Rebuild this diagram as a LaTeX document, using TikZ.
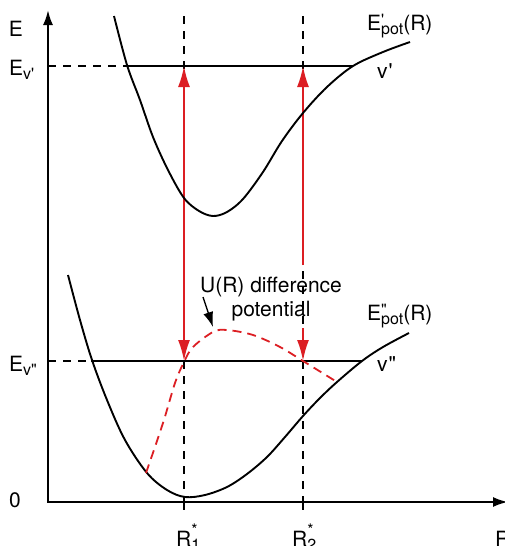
\documentclass[tikz,border=0pt]{standalone}
\usepackage{fontspec}
\setmainfont{TeX Gyre Heros}
\usetikzlibrary{arrows.meta}
\definecolor{transred}{RGB}{220,30,35}

% small raised / lowered indices
\newcommand{\hiidx}[1]{\raisebox{0.22em}{\fontsize{16}{16}\selectfont #1}}
\newcommand{\loidx}[1]{\raisebox{-0.22em}{\fontsize{16}{16}\selectfont #1}}
\newcommand{\stackidx}[2]{\rlap{\hiidx{#1}}\loidx{#2}}
\newcommand{\staridx}[1]{\rlap{\raisebox{0.5em}{\fontsize{16}{16}\selectfont *}}\loidx{#1}}

\begin{document}
\begin{tikzpicture}[
    x=1pt, y=-1pt,
    every node/.style={font=\fontsize{21}{24}\selectfont, inner sep=0pt},
    axis/.style={line width=2.2pt, {Latex[length=15pt, width=10pt]}-{Latex[length=15pt, width=10pt]}},
    curve/.style={line width=1.9pt},
    level/.style={line width=1.5pt},
    guide/.style={line width=1.6pt, dash pattern=on 8pt off 7pt},
    transition/.style={transred, line width=2.2pt, >={Latex[length=21pt, width=12pt]}},
    diffpot/.style={transred, line width=1.8pt, dash pattern=on 9pt off 6pt},
    pointer/.style={line width=1.3pt, -{Latex[length=15pt, width=10pt]}},
]

\useasboundingbox (0,0) rectangle (504,546);

% Axes
\coordinate (origin) at (48,502);
\coordinate (etop) at (48,10);
\coordinate (rend) at (508,502);
\draw[axis] (etop) -- (origin) -- (rend);

\node (elab) at (16,29) {E};
\node (zero) at (15,500) {0};
\node[anchor=base west] (rlab) at (495,546) {R};

% Levels
\coordinate (ev1) at (48,66);
\coordinate (ev1a) at (126,66);
\coordinate (ev1b) at (353,66);
\coordinate (ev2) at (48,361);
\coordinate (ev2a) at (91,361);
\coordinate (ev2b) at (362,361);

\draw[guide, line width=1.5pt] (ev1) -- (ev1a);
\draw[level] (ev1a) -- (ev1b);
\draw[guide, line width=1.5pt] (ev2) -- (ev2a);
\draw[level] (ev2a) -- (ev2b);

\node[anchor=base west] (ev1lab) at (9,75) {E\loidx{v\textquotesingle}};
\node[anchor=base west] (ev2lab) at (9,371) {E\loidx{v\textquotedbl}};
\node[anchor=base west] (v1lab) at (377,78) {v\kern1pt\textquotesingle};
\node[anchor=base west] (v2lab) at (377,371) {v\kern1pt\textquotedbl};

% Vertical guides at R1*, R2*
\coordinate (r1top) at (184,16);
\coordinate (r1) at (184,502);
\coordinate (r1tick) at (184,510);
\coordinate (r2top) at (303,16);
\coordinate (r2) at (303,502);
\coordinate (r2tick) at (303,510);

\draw[guide] (r1top) -- (r1);
\draw[guide] (r2top) -- (r2);
\draw[line width=1.6pt] (r1) -- (r1tick);
\draw[line width=1.6pt] (r2) -- (r2tick);

\node[anchor=base west] (r1lab) at (176,546) {R\staridx{1}};
\node[anchor=base west] (r2lab) at (292,546) {R\staridx{2}};

% Transitions
\coordinate (a1) at (184,66);
\coordinate (a2) at (184,361);
\coordinate (b1) at (303,66);
\coordinate (b2) at (303,265);
\coordinate (b3) at (303,328);
\coordinate (b4) at (303,361);

\draw[transition, <->] (a1) -- (a2);
\draw[transition, ->] (b2) -- (b1);
\draw[transition, ->] (b3) -- (b4);

% Upper potential
\draw[curve] plot[smooth, tension=0.55] coordinates {
    (114,16) (127,65) (140,100) (153,137) (168,170) (184,198) (199,211)
    (213,216) (227,212) (243,199) (263,172) (282,141) (303,113) (327,87)
    (353,66) (383,52) (410,42)};
\node[anchor=base west] (upot) at (367,30) {E\stackidx{\textquotesingle}{pot}(R)};

% Lower potential
\draw[curve] plot[smooth, tension=0.55] coordinates {
    (68,275) (80,320) (92,360) (107,400) (125,440) (147,473) (167,490)
    (185,497) (205,495) (227,487) (247,474) (267,457) (285,437) (303,416)
    (320,398) (337,382) (362,361) (383,347) (409,333)};
\node[anchor=base west] (lpot) at (367,320) {E\stackidx{\textquotedbl}{pot}(R)};

% Difference potential
\draw[diffpot] plot[smooth, tension=0.55] coordinates {
    (146,473) (163,423) (175,383) (184,362) (193,347) (213,332) (227,330)
    (253,335) (280,347) (303,361) (337,382)};

\node[align=center] (difflab) at (271,299) {U(R) difference\\potential};
\coordinate (ptail) at (203,297);
\coordinate (phead) at (213,327);
\draw[pointer] (ptail) -- (phead);

\end{tikzpicture}
\end{document}
